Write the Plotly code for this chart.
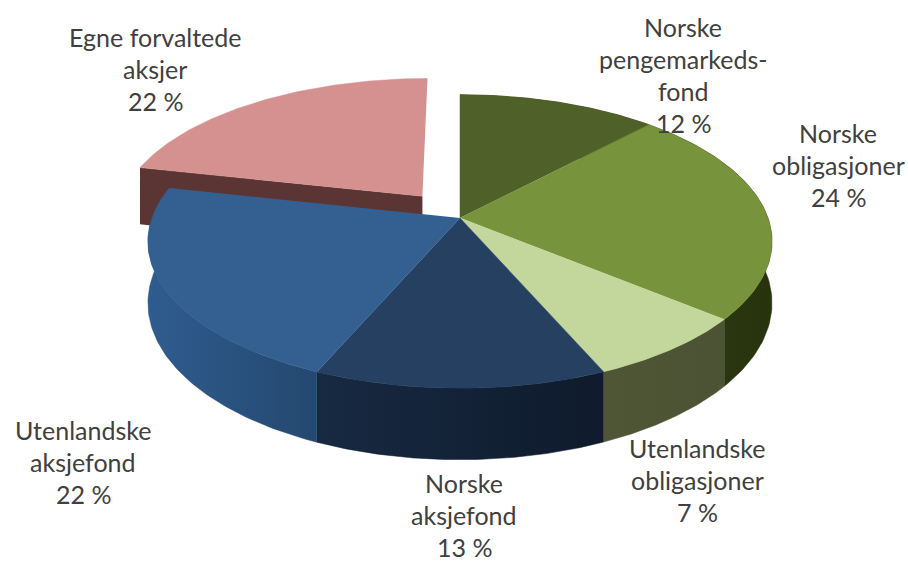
import numpy as np
import plotly.graph_objects as go

# andeler, med klokka fra toppen (lest av bildet, etikettene viser avrundet verdi)
names = ['Norske pengemarkedsfond', 'Norske obligasjoner', 'Utenlandske obligasjoner',
         'Norske aksjefond', 'Utenlandske aksjefond', 'Egne forvaltede aksjer']
shares = [12, 24, 7.49, 13, 22, 21.51]
label_lines = [['Norske', 'pengemarkeds-', 'fond'], ['Norske', 'obligasjoner'],
               ['Utenlandske', 'obligasjoner'], ['Norske', 'aksjefond'],
               ['Utenlandske', 'aksjefond'], ['Egne forvaltede', 'aksjer']]
label_x = [683, 838, 697, 464, 83, 155]
label_y = [27, 133, 448, 483, 430, 37]
top_colors = ['#4f6128', '#77933c', '#c3d69b', '#254061', '#335f91', '#d59190']
wall_left = ['#2c3a10', '#2e3b12', '#4f5636', '#172a42', '#2f5c8f', '#5b3533']
wall_right = ['#2c3a10', '#26330d', '#4c5334', '#0f1a2c', '#24486f', '#5b3533']
explode = [0, 0, 0, 0, 0, 0.2]

# projeksjon av den skrå kaken
CX, CY, RX, RY, K, DEPTH = 460, 218, 308, 143, 0.16, 60


def project(px, py, down=0.0):
    s = 1 / (1 - K * py)
    return CX + RX * px * s, CY + (RY * py + down) * s


fig = go.Figure()
edges = np.cumsum([0] + shares) / sum(shares) * 2 * np.pi
tops = []
walls = []
for i in range(len(shares)):
    a0, a1 = edges[i], edges[i + 1]
    mid = (a0 + a1) / 2
    ox, oy = explode[i] * np.sin(mid), -explode[i] * np.cos(mid)
    t = np.linspace(a0, a1, 80)
    arc_x, arc_y = ox + np.sin(t), oy - np.cos(t)

    x, y = project(np.r_[ox, arc_x], np.r_[oy, arc_y])
    tops.append(go.Scatter(x=x, y=y, fill='toself', fillcolor=top_colors[i], mode='lines',
                           line=dict(width=0.5, color=top_colors[i]), name=names[i], hoverinfo='name'))

    fade = dict(type='horizontal', colorscale=[[0, wall_left[i]], [1, wall_right[i]]])
    if explode[i] > 0:
        # snittflaten som vises under den trukne biten
        cut_x, cut_y = np.array([ox, arc_x[0]]), np.array([oy, arc_y[0]])
        x0, y0 = project(cut_x, cut_y)
        x1, y1 = project(cut_x, cut_y, DEPTH)
        walls.append(go.Scatter(x=np.r_[x0, x1[::-1]], y=np.r_[y0, y1[::-1]], fill='toself',
                                fillcolor=wall_left[i], mode='lines', line=dict(width=0),
                                hoverinfo='skip'))
    else:
        x0, y0 = project(arc_x, arc_y)
        x1, y1 = project(arc_x, arc_y, DEPTH)
        walls.append(go.Scatter(x=np.r_[x0, x1[::-1]], y=np.r_[y0, y1[::-1]], fill='toself',
                                fillgradient=fade, mode='lines',
                                line=dict(width=0.5, color=wall_right[i]), hoverinfo='skip'))

fig.add_traces(walls)
fig.add_traces(tops)

# Etiketter, en annotasjon per linje for å holde linjeavstanden
for lines, lx, ly, share in zip(label_lines, label_x, label_y, shares):
    for n, line in enumerate(lines + [f'{round(share)} %']):
        fig.add_annotation(x=lx, y=ly + n * 32, text=line, showarrow=False, borderpad=0,
                           font=dict(family='Lato', size=25, color='#404040'))

fig.update_layout(
    width=908, height=563, margin=dict(l=0, r=0, t=0, b=0),
    paper_bgcolor='white', plot_bgcolor='white', showlegend=False,
    xaxis=dict(range=[0, 908], visible=False),
    yaxis=dict(range=[563, 0], visible=False),
)

# siden har 8 px marg som standard
fig.write_html('out.html', post_script="document.body.style.margin='0';",
               config={'displayModeBar': False})
